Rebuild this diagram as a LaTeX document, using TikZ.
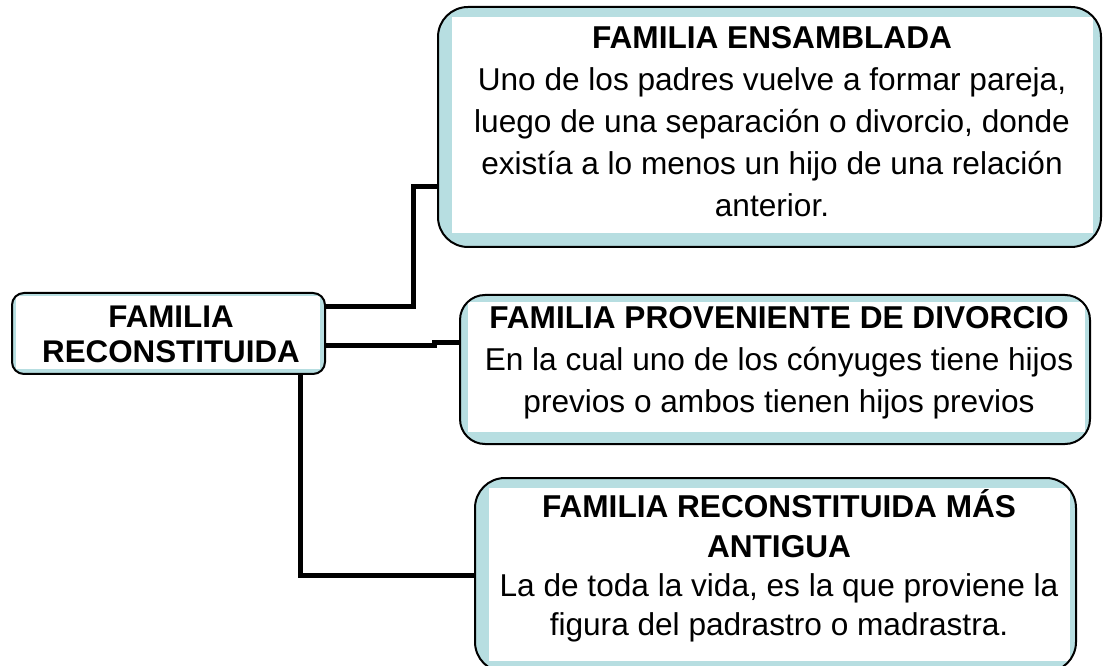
\documentclass[tikz,border=0pt]{standalone}
\usepackage{fontspec}
\setmainfont{Liberation Sans}
\usetikzlibrary{calc}
\definecolor{shade}{RGB}{183,222,225}
\begin{document}
\begin{tikzpicture}[x=0.75pt,y=-0.75pt,
  box/.style={draw=black, line width=1.5pt, fill=shade, inner sep=0pt, outer sep=0pt, anchor=north west},
  inset/.style n args={4}{path picture={\fill[white, sharp corners] ([shift={(#1pt,-#2pt)}]path picture bounding box.north west) rectangle ([shift={(-#3pt,#4pt)}]path picture bounding box.south east);}},
  txt/.style={align=center, inner sep=0pt, font=\fontsize{23.7pt}{31.5pt}\selectfont},
  conn/.style={draw=black, line width=3.75pt, line join=miter}]
\useasboundingbox (0,0) rectangle (1103,666);

% boxes
\node[box, rounded corners=9pt, minimum width=234.75pt, minimum height=60.75pt, inset={3}{2.25}{3.75}{3.75}] (c) at (12,293) {};
\node[box, rounded corners=22.5pt, minimum width=497.25pt, minimum height=180pt, inset={10.5}{7.5}{6}{10.5}] (b1) at (438,7) {};
\node[box, rounded corners=18.75pt, minimum width=472.5pt, minimum height=111.75pt, inset={6}{5.25}{3.75}{9}] (b2) at (460,295) {};
\node[box, rounded corners=22.5pt, minimum width=450.75pt, minimum height=145.5pt, inset={10.5}{7.5}{4.5}{8.25}] (b3) at (475,478) {};

% texts
\node[txt, font=\fontsize{23.5pt}{26.25pt}\selectfont\bfseries] (tc) at (171,334) {FAMILIA\\RECONSTITUIDA};
\node[txt] (t1) at (772,122) {\textbf{FAMILIA ENSAMBLADA}\\Uno de los padres vuelve a formar pareja,\\luego de una separación o divorcio, donde\\existía a lo menos un hijo de una relación\\anterior.};
\node[txt] (t2) at (779,363) {\textbf{FAMILIA PROVENIENTE DE DIVORCIO}\\En la cual uno de los cónyuges tiene hijos\\previos o ambos tienen hijos previos};
\node[txt, font=\fontsize{23.7pt}{29.5pt}\selectfont] (t3) at (779,566) {\textbf{FAMILIA RECONSTITUIDA MÁS}\\\textbf{ANTIGUA}\\La de toda la vida, es la que proviene la\\figura del padrastro o madrastra.};

% connectors
\draw[conn] ($(c.east)+(0,-27)$) -| ($(b1.west)+(-25,60)$) -- ($(b1.west)+(0,60)$);
\draw[conn] ($(c.east)+(0,12)$) -| ($(b2.west)+(-26,-27)$) -- ($(b2.west)+(0,-27)$);
\draw[conn] ($(c.south)+(132,0)$) |- (b3.west);
\end{tikzpicture}
\end{document}
